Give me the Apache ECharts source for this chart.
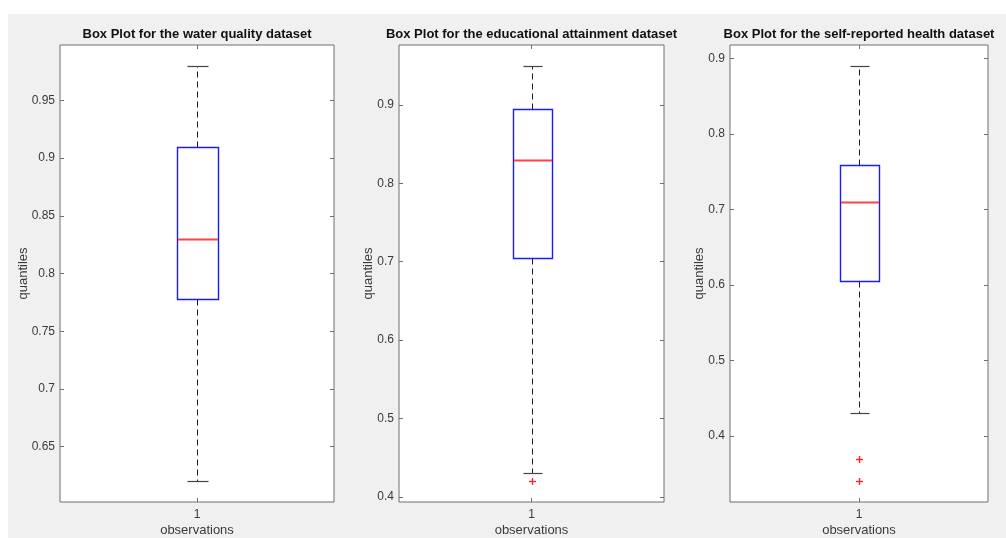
<!DOCTYPE html>
<html>
<head>
<meta charset="utf-8">
<script src="https://cdn.jsdelivr.net/npm/echarts@6/dist/echarts.min.js"></script>
<style>
html,body{margin:0;padding:0;background:#fff;}
#chart{width:1006px;height:538px;}
</style>
</head>
<body>
<div id="chart"></div>
<script>
// ---- data ----
const categories = ['1'];
const titles = [
  'Box Plot for the water quality dataset',
  'Box Plot for the educational attainment dataset',
  'Box Plot for the self-reported health dataset'
];
// [lower whisker, Q1, median, Q3, upper whisker]
const waterStats  = [0.62, 0.778, 0.83, 0.91, 0.98];
const eduStats    = [0.43, 0.705, 0.83, 0.895, 0.95];
const healthStats = [0.43, 0.605, 0.71, 0.758, 0.89];
const waterOutliers  = [];
const eduOutliers    = [0.42];
const healthOutliers = [0.37, 0.34];
const waterTicks  = [0.65, 0.7, 0.75, 0.8, 0.85, 0.9, 0.95];
const eduTicks    = [0.4, 0.5, 0.6, 0.7, 0.8, 0.9];
const healthTicks = [0.4, 0.5, 0.6, 0.7, 0.8, 0.9];
const yName = 'quantiles';
const xName = 'observations';

const statsList = [waterStats, eduStats, healthStats];
const outList = [waterOutliers, eduOutliers, healthOutliers];
const tickList = [waterTicks, eduTicks, healthTicks];

// ---- layout ----
const grids = [
  {left: 60, top: 45, width: 274, height: 457},
  {left: 399, top: 45, width: 265, height: 457},
  {left: 730, top: 45, width: 258, height: 457}
];
const nameGaps = [30, 24, 24];
const FONT = '"Liberation Sans", Arial, Helvetica, sans-serif';
const AXC = '#6e6e6e';
const TXT = '#3a3a3a';

function limits(stats, outs) {
  const all = stats.concat(outs);
  const lo = Math.min(...all), hi = Math.max(...all);
  const pad = (hi - lo) * 0.05;
  return [lo - pad, hi + pad];
}

const option = {
  backgroundColor: '#ffffff',
  animation: false,
  graphic: [
    {type: 'rect', z: -10, silent: true, shape: {x: 8, y: 14, width: 998, height: 524}, style: {fill: '#f0f0f0'}}
  ],
  grid: [],
  xAxis: [],
  yAxis: [],
  series: []
};

grids.forEach((g, i) => {
  option.grid.push({left: g.left, top: g.top, width: g.width, height: g.height,
    containLabel: false, outerBoundsMode: 'none',
    show: true, backgroundColor: '#ffffff', borderColor: AXC, borderWidth: 1, z: 0});
  option.graphic.push({type: 'text', z: 10, silent: true,
    x: g.left + g.width / 2, y: 34,
    style: {text: titles[i], font: 'bold 13px ' + FONT, fill: '#111', align: 'center', verticalAlign: 'middle'}});
  const [ymin, ymax] = limits(statsList[i], outList[i]);
  const ticks = tickList[i];
  // bottom x
  option.xAxis.push({type: 'value', gridIndex: i, min: 0.5, max: 1.5, position: 'bottom',
    name: xName, nameLocation: 'middle', nameGap: 22, nameMoveOverlap: false,
    nameTextStyle: {fontFamily: FONT, fontSize: 13, color: TXT},
    axisLine: {show: false}, splitLine: {show: false},
    axisTick: {show: true, inside: true, length: 4, lineStyle: {color: AXC}, customValues: [1]},
    axisLabel: {show: true, margin: 7, fontFamily: FONT, fontSize: 12, color: TXT, customValues: [1],
      formatter: v => categories[Math.round(v) - 1]}});
  // top x
  option.xAxis.push({type: 'value', gridIndex: i, min: 0.5, max: 1.5, position: 'top',
    axisLine: {show: false}, splitLine: {show: false},
    axisTick: {show: true, inside: true, length: 4, lineStyle: {color: AXC}, customValues: [1]},
    axisLabel: {show: false}});
  // left y
  option.yAxis.push({type: 'value', gridIndex: i, min: ymin, max: ymax, position: 'left',
    name: yName, nameLocation: 'middle', nameGap: nameGaps[i], nameRotate: 90, nameMoveOverlap: false,
    nameTextStyle: {fontFamily: FONT, fontSize: 13, color: TXT},
    axisLine: {show: false}, splitLine: {show: false},
    axisTick: {show: true, inside: true, length: 4, lineStyle: {color: AXC}, customValues: ticks},
    axisLabel: {show: true, margin: 5, fontFamily: FONT, fontSize: 12, color: TXT, customValues: ticks,
      formatter: v => String(+v.toFixed(2))}});
  // right y
  option.yAxis.push({type: 'value', gridIndex: i, min: ymin, max: ymax, position: 'right',
    axisLine: {show: false}, splitLine: {show: false},
    axisTick: {show: true, inside: true, length: 4, lineStyle: {color: AXC}, customValues: ticks},
    axisLabel: {show: false}});

  const s = statsList[i];
  option.series.push({
    type: 'custom', xAxisIndex: 2 * i, yAxisIndex: 2 * i, z: 5,
    data: [[1, s[0], s[1], s[2], s[3], s[4]]],
    renderItem: function (params, api) {
      const x = api.value(0);
      const pLo = api.coord([x, api.value(1)]);
      const pQ1 = api.coord([x, api.value(2)]);
      const pMed = api.coord([x, api.value(3)]);
      const pQ3 = api.coord([x, api.value(4)]);
      const pHi = api.coord([x, api.value(5)]);
      const bw = api.size([0.15, 0])[0];
      const cw = api.size([0.075, 0])[0];
      const cx = Math.round(pLo[0]) + 0.5;
      const sn = v => Math.round(v) + 0.5;
      const left = sn(cx - bw / 2), right = sn(cx + bw / 2);
      return {type: 'group', children: [
        {type: 'line', shape: {x1: cx, y1: sn(pQ3[1]), x2: cx, y2: sn(pHi[1])},
          style: {stroke: '#1a1a1a', lineWidth: 1, lineDash: [6, 4]}},
        {type: 'line', shape: {x1: cx, y1: sn(pQ1[1]), x2: cx, y2: sn(pLo[1])},
          style: {stroke: '#1a1a1a', lineWidth: 1, lineDash: [6, 4]}},
        {type: 'line', shape: {x1: sn(cx - cw / 2), y1: sn(pHi[1]), x2: sn(cx + cw / 2), y2: sn(pHi[1])},
          style: {stroke: '#444', lineWidth: 1.2}},
        {type: 'line', shape: {x1: sn(cx - cw / 2), y1: sn(pLo[1]), x2: sn(cx + cw / 2), y2: sn(pLo[1])},
          style: {stroke: '#444', lineWidth: 1.2}},
        {type: 'rect', shape: {x: left, y: sn(pQ3[1]), width: right - left, height: sn(pQ1[1]) - sn(pQ3[1])},
          style: {fill: '#ffffff', stroke: '#1a1aff', lineWidth: 1.4}},
        {type: 'rect', z2: 10, shape: {x: left + 0.5, y: Math.round(pMed[1]) - 0.5, width: right - left - 1, height: 2},
          style: {fill: '#ff4040'}}
      ]};
    }
  });
  option.series.push({
    type: 'custom', xAxisIndex: 2 * i, yAxisIndex: 2 * i, z: 6,
    data: outList[i].map(v => [1, v]),
    renderItem: function (params, api) {
      const p = api.coord([api.value(0), api.value(1)]);
      const x = Math.round(p[0]) + 0.5, y = Math.round(p[1]) + 0.5, r = 3.5;
      return {type: 'group', children: [
        {type: 'line', shape: {x1: x - r, y1: y, x2: x + r, y2: y}, style: {stroke: '#ff2020', lineWidth: 1.4}},
        {type: 'line', shape: {x1: x, y1: y - r, x2: x, y2: y + r}, style: {stroke: '#ff2020', lineWidth: 1.4}}
      ]};
    }
  });
});

const chart = echarts.init(document.getElementById('chart'), null, {renderer: 'canvas'});
chart.setOption(option);
</script>
</body>
</html>
